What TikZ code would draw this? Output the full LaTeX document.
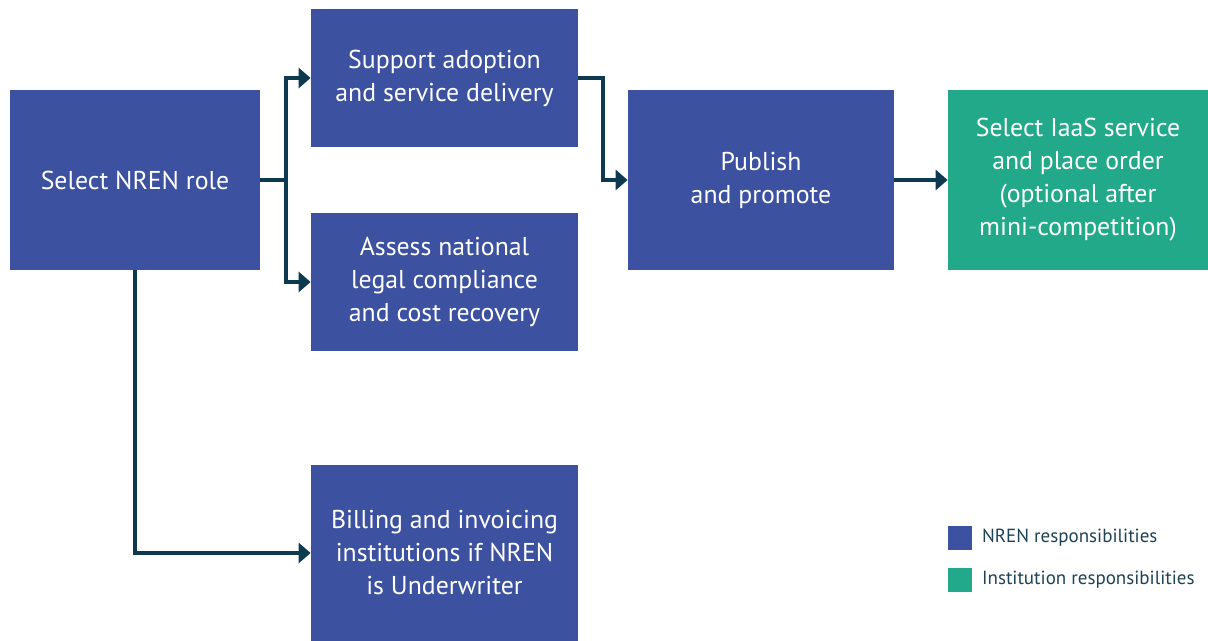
\documentclass[tikz,border=0pt]{standalone}
\usepackage{fontspec}
\setmainfont{PT Sans}
\usetikzlibrary{arrows.meta}

\definecolor{nrenblue}{HTML}{3C51A0}
\definecolor{instgreen}{HTML}{21A98A}
\definecolor{arrowcol}{HTML}{0E3A50}
\definecolor{legendtext}{HTML}{1E4356}

\begin{document}
\begin{tikzpicture}[x=0.5pt, y=-0.5pt,
    stepbox/.style={rectangle, fill=nrenblue, text=white, align=center,
        inner sep=0pt, font=\fontsize{12.9}{16.5}\selectfont},
    instbox/.style={stepbox, fill=instgreen},
    arr/.style={draw=arrowcol, line width=2pt, -{Triangle[length=6pt,width=10pt]}},
    link/.style={draw=arrowcol, line width=2pt},
    legendkey/.style={rectangle, inner sep=0pt, minimum width=12pt, minimum height=12pt},
    legendlabel/.style={anchor=west, text=legendtext, font=\fontsize{9.5}{11}\selectfont}]

    \useasboundingbox (0,0) rectangle (1208,641);

    % boxes
    \node[stepbox, minimum width=125pt, minimum height=90pt] (role) at (135,180) {Select NREN role};
    \node[stepbox, minimum width=133.5pt, minimum height=69pt] (support) at (444.5,78) {Support adoption\\and service delivery};
    \node[stepbox, minimum width=133.5pt, minimum height=69pt] (assess) at (444.5,282) {Assess national\\legal compliance\\and cost recovery};
    \node[stepbox, minimum width=133pt, minimum height=90pt] (publish) at (761,180) {Publish\\and promote};
    \node[instbox, minimum width=130pt, minimum height=90pt] (order) at (1078,180) {Select IaaS service\\and place order\\(optional after\\mini-competition)};
    \node[stepbox, minimum width=133.5pt, minimum height=88pt] (billing) at (444.5,553) {Billing and invoicing\\institutions if NREN\\is Underwriter};

    % connectors
    \coordinate (split) at (286,180);
    \coordinate (bend) at (603,180);
    \draw[link] (role.east) -- (split);
    \draw[arr] (split) |- (support.west);
    \draw[arr] (split) |- (assess.west);
    \draw[arr] (support.east) -| (bend) -- (publish.west);
    \draw[arr] (publish.east) -- (order.west);
    \draw[arr] (role.south) |- (billing.west);

    % legend
    \node[legendkey, fill=nrenblue] (keynren) at (960,538) {};
    \node[legendkey, fill=instgreen] (keyinst) at (960,580) {};
    \node[legendlabel] (labnren) at (975,538) {NREN responsibilities};
    \node[legendlabel] (labinst) at (975,580) {Institution responsibilities};

\end{tikzpicture}
\end{document}
